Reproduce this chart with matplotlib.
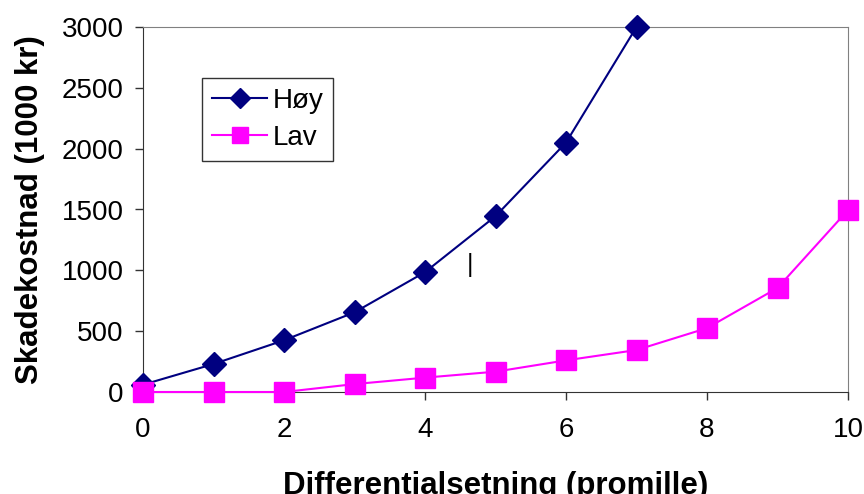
import matplotlib.pyplot as plt

plt.rcParams['font.family'] = ['Liberation Sans', 'DejaVu Sans']

# differential settlement (promille) and damage cost (1000 kr)
x_hoy = [0, 1, 2, 3, 4, 5, 6, 7]
hoy = [60, 230, 425, 655, 985, 1445, 2050, 3000]
x_lav = [0, 1, 2, 3, 4, 5, 6, 7, 8, 9, 10]
lav = [0, 0, 0, 65, 118, 167, 260, 345, 525, 855, 1495]

fig = plt.figure(figsize=(8.64, 4.94), dpi=100)
ax = fig.add_axes([143/864, 1-392/494, (848-143)/864, (392-27)/494])

ax.plot(x_hoy, hoy, color='#000080', marker='D', ms=12, lw=1.5,
        label='Høy', clip_on=False, zorder=3)
ax.plot(x_lav, lav, color='#ff00ff', marker='s', ms=14, lw=1.5,
        label='Lav', clip_on=False, zorder=3)

# stray tick mark in the plot area
ax.text(4.64, 1040, '|', ha='center', va='center', fontsize=18, color='black')

ax.set_xlim(0, 10)
ax.set_ylim(0, 3000)
ax.set_xticks(range(0, 11, 2))
ax.set_yticks(range(0, 3001, 500))
ax.tick_params(axis='both', labelsize=20, length=6, width=1, direction='out',
               colors='#333333', labelcolor='black')
ax.tick_params(axis='x', pad=12)
ax.tick_params(axis='y', pad=8)

for side in ['top', 'right']:
    ax.spines[side].set_color('#808080')
for side in ['left', 'bottom']:
    ax.spines[side].set_color('#333333')

ax.set_xlabel('Differentialsetning (promille)', fontsize=22.5, fontweight='bold', labelpad=20)
ax.set_ylabel('Skadekostnad (1000 kr)', fontsize=22.5, fontweight='bold', labelpad=12)

leg = ax.legend(loc='upper left', bbox_to_anchor=((202-143)/705, (392-78)/365),
                fontsize=20, frameon=True, fancybox=False, handlelength=2.0,
                borderpad=0.35, labelspacing=0.4, handletextpad=0.2,
                borderaxespad=0, markerscale=0.85)
leg.get_frame().set_edgecolor('black')
leg.get_frame().set_linewidth(1)

fig.savefig('out.png', dpi=100)
